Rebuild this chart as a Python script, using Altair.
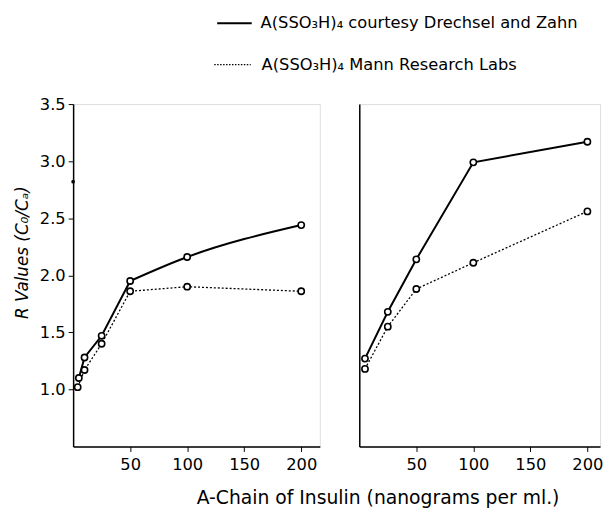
import altair as alt
import pandas as pd

FONT = "DejaVu Sans"

series_names = ["A(SSO₃H)₄ courtesy Drechsel and Zahn", "A(SSO₃H)₄ Mann Research Labs"]
x_title = "A-Chain of Insulin (nanograms per ml.)"
y_title = "R Values (C₀/Cₐ)"

# Left panel
left_x_solid = [5, 10, 25, 50, 100, 200]
left_y_solid = [1.10, 1.28, 1.47, 1.95, 2.16, 2.44]
left_x_dot = [4, 10, 25, 50, 100, 200]
left_y_dot = [1.02, 1.17, 1.40, 1.86, 1.90, 1.86]
left_stray_x = [0]
left_stray_y = [2.82]

# Right panel
right_x = [5, 25, 50, 100, 200]
right_y_solid = [1.27, 1.68, 2.14, 2.99, 3.17]
right_y_dot = [1.18, 1.55, 1.88, 2.11, 2.56]

x_ticks = [50, 100, 150, 200]
y_ticks = [1.0, 1.5, 2.0, 2.5, 3.0, 3.5]

PW_L, PW_R, PH = 250, 244, 347
XMAX_L, XMAX_R = 216.3, 211.1


def panel(xs_s, ys_s, xs_d, ys_d, xmax, width, left):
    x_axis = alt.Axis(values=x_ticks, title=None, format="d", tickSize=5, labelPadding=5,
                      labelFontSize=16.5, labelFont=FONT, grid=False, domainColor="black",
                      tickColor="black", labelColor="black", domainWidth=1.5)
    if left:
        y_axis = alt.Axis(values=y_ticks, format=".1f", title=y_title, titleFontStyle="italic",
                          titleFontWeight="normal", titleFontSize=17, titleFont=FONT,
                          titleX=-42, titleY=150, titleColor="black",
                          tickSize=5, labelPadding=3, labelFontSize=16.5, labelFont=FONT,
                          grid=False, domainColor="black", tickColor="black",
                          labelColor="black", domainWidth=1.5)
    else:
        y_axis = alt.Axis(title=None, labels=False, ticks=False, grid=False,
                          domainColor="black", domainWidth=1.5)
    yenc = alt.Y("y:Q", scale=alt.Scale(domain=[0.5, 3.5], nice=False, zero=False), axis=y_axis)
    xe = alt.X("x:Q", scale=alt.Scale(domain=[0, xmax], nice=False, zero=False), axis=x_axis)

    ds = pd.DataFrame({"x": xs_s, "y": ys_s})
    dd = pd.DataFrame({"x": xs_d, "y": ys_d})
    if left:
        # straight segments up to 50, smooth bend beyond (as drawn in the original)
        solid_a = alt.Chart(ds).transform_filter("datum.x <= 50").mark_line(
            color="black", strokeWidth=2).encode(x=xe, y=yenc)
        solid_b = alt.Chart(ds).transform_filter("datum.x >= 50").mark_line(
            color="black", strokeWidth=2, interpolate="monotone").encode(x=xe, y=yenc)
        solid_layers = [solid_a, solid_b]
    else:
        solid_layers = [alt.Chart(ds).mark_line(color="black", strokeWidth=2).encode(x=xe, y=yenc)]
    dotted = alt.Chart(dd).mark_line(color="black", strokeWidth=1.3, strokeDash=[2, 2]).encode(x=xe, y=yenc)
    pts_s = alt.Chart(ds).mark_point(shape="circle", filled=True, fill="white", stroke="black",
                                     strokeWidth=1.6, size=40, opacity=1).encode(x=xe, y=yenc)
    pts_d = alt.Chart(dd).mark_point(shape="circle", filled=True, fill="white", stroke="black",
                                     strokeWidth=1.6, size=40, opacity=1).encode(x=xe, y=yenc)
    layers = solid_layers + [dotted, pts_s, pts_d]
    if left:
        stray = pd.DataFrame({"x": left_stray_x, "y": left_stray_y})
        layers.append(alt.Chart(stray).mark_circle(color="black", size=14, opacity=1, clip=False)
                      .encode(x=xe, y=yenc))
        one = pd.DataFrame({"k": [0]})
        layers.append(alt.Chart(one).mark_rule(color="black", strokeWidth=2)
                      .encode(x=alt.value(146), x2=alt.value(181), y=alt.value(-82)))
        layers.append(alt.Chart(one).mark_rule(color="black", strokeWidth=1.3, strokeDash=[1.5, 1.5])
                      .encode(x=alt.value(143), x2=alt.value(180), y=alt.value(-40)))
        l1 = pd.DataFrame({"label": [series_names[0]]})
        l2 = pd.DataFrame({"label": [series_names[1]]})
        lt = pd.DataFrame({"label": [x_title]})
        layers.append(alt.Chart(l1).mark_text(align="left", baseline="middle", font=FONT,
                                              fontSize=16.5, color="black")
                      .encode(x=alt.value(190), y=alt.value(-82), text="label:N"))
        layers.append(alt.Chart(l2).mark_text(align="left", baseline="middle", font=FONT,
                                              fontSize=16.5, color="black")
                      .encode(x=alt.value(191), y=alt.value(-40), text="label:N"))
        layers.append(alt.Chart(lt).mark_text(align="center", baseline="middle", font=FONT,
                                              fontSize=19, color="black")
                      .encode(x=alt.value(309), y=alt.value(399), text="label:N"))
    return alt.layer(*layers).properties(width=width, height=PH)


left = panel(left_x_solid, left_y_solid, left_x_dot, left_y_dot, XMAX_L, PW_L, True)
right = panel(right_x, right_y_solid, right_x, right_y_dot, XMAX_R, PW_R, False)

chart = alt.hconcat(left, right, spacing=40, bounds="flush").properties(
    padding={"left": 5, "top": 3, "right": 0, "bottom": 0}
).configure_view(stroke=None).configure(background="white")

chart.save("out.html", embed_options={"renderer": "svg", "actions": False})
